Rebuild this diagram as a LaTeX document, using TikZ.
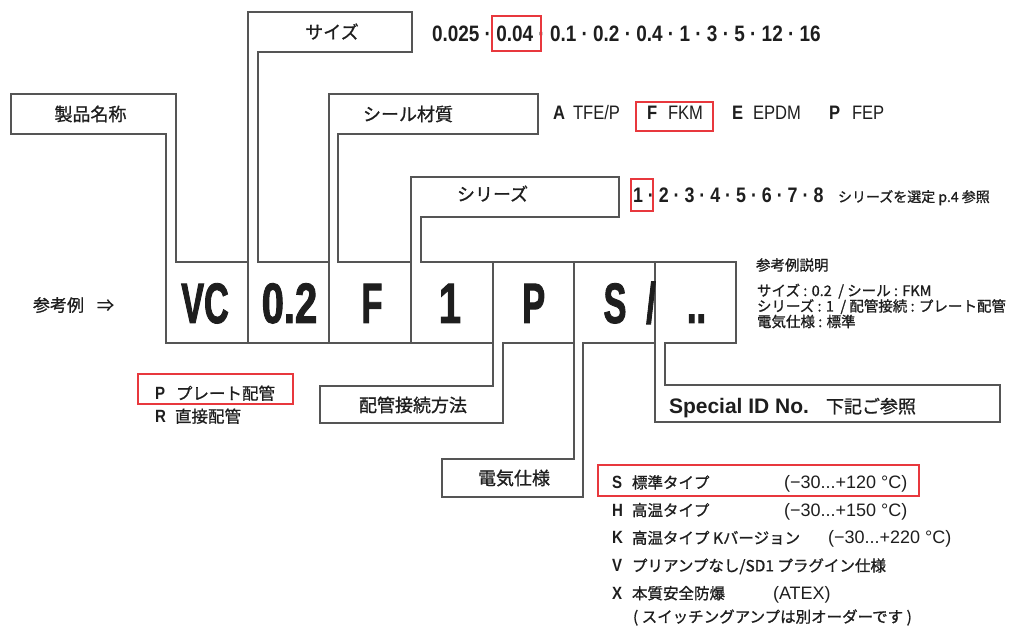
\documentclass[tikz,border=0pt]{standalone}
\usepackage{fontspec}
\setmainfont{Liberation Sans}
\newfontfamily\jp[FakeBold=1.0]{Noto Sans CJK JP}
\newfontfamily\cndB[FakeStretch=0.85]{Liberation Sans}
\newfontfamily\bigL[FakeStretch=0.6,FakeBold=1.6]{Liberation Sans}
\newfontfamily\bigD[FakeStretch=0.7,FakeBold=1.6]{Liberation Sans}
\newcommand\fsz[1]{\fontsize{#1}{#1}\selectfont}
\definecolor{ln}{HTML}{555555}
\definecolor{rd}{HTML}{E8383D}
\definecolor{tx}{HTML}{1E1E1E}
\begin{document}
\begin{tikzpicture}[x=1pt,y=-1pt,
  frame/.style={draw=ln, line width=1.3pt, line join=miter},
  redbox/.style={draw=rd, line width=1.2pt},
  t/.style={inner sep=0pt, outer sep=0pt, text=tx},
  tl/.style={t, anchor=base west},
  tc/.style={t, anchor=base},
  lab/.style={tc, font=\jp\fsz{18}},
  labw/.style={tl, font=\jp\fsz{18}},
  cellL/.style={tc, font=\bigL\bfseries\fsz{57}},
  cellD/.style={tc, font=\bigD\bfseries\fsz{57}},
  code/.style={tl, font=\cndB\bfseries\fsz{17.7}},
  jpl/.style={tl, font=\jp\fsz{15.5}},
  tmp/.style={tl, font=\fsz{18}},
  note/.style={tl, font=\jp\fsz{14.5}}]
\useasboundingbox (0,0) rectangle (1015,628);

% outlines (label box + leg + code cell)
\draw[frame] (11,94) -- (176,94) -- (176,262) -- (248,262) -- (248,343) -- (166,343) -- (166,134) -- (11,134) -- cycle;
\draw[frame] (248,12) -- (412,12) -- (412,52) -- (258,52) -- (258,262) -- (329,262) -- (329,343) -- (248,343) -- cycle;
\draw[frame] (329,94) -- (538,94) -- (538,134) -- (338,134) -- (338,262) -- (411,262) -- (411,343) -- (329,343) -- cycle;
\draw[frame] (411,177) -- (619,177) -- (619,217) -- (421,217) -- (421,262) -- (493,262) -- (493,343) -- (411,343) -- cycle;
\draw[frame] (320,386) -- (493,386) -- (493,262) -- (574,262) -- (574,343) -- (503,343) -- (503,423) -- (320,423) -- cycle;
\draw[frame] (442,459) -- (574,459) -- (574,262) -- (655,262) -- (655,343) -- (583,343) -- (583,497) -- (442,497) -- cycle;
\draw[frame] (655,262) -- (736,262) -- (736,343) -- (665,343) -- (665,385) -- (1000,385) -- (1000,422) -- (655,422) -- cycle;

% labels
\node[lab] (lname) at (90.5,120.8) {製品名称};
\node[lab] (lsize) at (332,38.8) {サイズ};
\node[labw] (lseal) at (363,120.8) {シール材質};
\node[labw] (lser) at (457,200.8) {シリーズ};
\node[lab] (lpipe) at (413,411.8) {配管接続方法};
\node[lab] (lelec) at (514,484.8) {電気仕様};
\node[tl, font=\jp\fsz{17}] (ex) at (33,311.5) {参考例\hspace{13pt}⇒};

% code cells
\node[cellL] (cVC) at (205,323) {VC};
\node[cellD] (c02) at (289.5,323) {0.2};
\node[cellL] (cF) at (372,323) {F};
\node[cellD] (c1) at (450,323) {1};
\node[cellL] (cP) at (533.7,323) {P};
\node[cellL] (cS) at (615,323) {S};
\node[cellL] (cSl) at (651,323) {/};
\node[cellL] (cDots) at (696.5,323) {..};

% size options
\node[tl, font=\cndB\bfseries\fsz{22.3}] (sizes) at (432,41.5) {0.025 · 0.04 · 0.1 · 0.2 · 0.4 · 1 · 3 · 5 · 12 · 16};
\draw[redbox] (492,16) rectangle (541,51);

% seal options
\node[tl, font=\cndB\bfseries\fsz{19.5}] (sA) at (553,120) {A};
\node[tl, font=\cndB\fsz{19.5}] (sAt) at (573,120) {TFE/P};
\node[tl, font=\cndB\bfseries\fsz{19.5}] (sF) at (647,120) {F};
\node[tl, font=\cndB\fsz{19.5}] (sFt) at (668,120) {FKM};
\node[tl, font=\cndB\bfseries\fsz{19.5}] (sE) at (732,120) {E};
\node[tl, font=\cndB\fsz{19.5}] (sEt) at (753,120) {EPDM};
\node[tl, font=\cndB\bfseries\fsz{19.5}] (sP) at (829,120) {P};
\node[tl, font=\cndB\fsz{19.5}] (sPt) at (852,120) {FEP};
\draw[redbox] (636,102) rectangle (713,131);

% series options
\node[tl, font=\cndB\bfseries\fsz{21}] (ser) at (633,202.5) {1 · 2 · 3 · 4 · 5 · 6 · 7 · 8};
\node[tl, font=\jp\fsz{14}] (sern) at (838,202) {シリーズを選定 p.4 参照};
\draw[redbox] (631,179) rectangle (653,211);

% explanation
\node[note] (n0) at (756,270.5) {参考例説明};
\node[note] (n1) at (757,296) {サイズ : 0.2 \ / シール : FKM};
\node[note] (n2) at (757,311.5) {シリーズ : 1 \ / 配管接続 : プレート配管};
\node[note] (n3) at (757,327) {電気仕様 : 標準};

% piping options
\node[code] (pP) at (155,399.5) {P};
\node[tl, font=\jp\fsz{16.5}] (pPt) at (176,399.5) {プレート配管};
\node[code] (pR) at (155,422.5) {R};
\node[tl, font=\jp\fsz{16.5}] (pRt) at (175,422.5) {直接配管};
\draw[redbox] (138,374) rectangle (293,404);

% special
\node[tl, font=\bfseries\fsz{21}] (spec) at (669,413) {Special ID No.};
\node[tl, font=\jp\fsz{18}] (spect) at (826,413) {下記ご参照};

% electrical options
\node[code] (eS) at (612,488.3) {S};
\node[jpl] (eSt) at (632,488.3) {標準タイプ};
\node[tmp] (eSr) at (784,488.3) {(−30...+120 °C)};
\node[code] (eH) at (612,516) {H};
\node[jpl] (eHt) at (632,516) {高温タイプ};
\node[tmp] (eHr) at (784,516) {(−30...+150 °C)};
\node[code] (eK) at (612,543.7) {K};
\node[jpl] (eKt) at (632,543.7) {高温タイプ Kバージョン};
\node[tmp] (eKr) at (828,543.7) {(−30...+220 °C)};
\node[code] (eV) at (612,571.4) {V};
\node[jpl] (eVt) at (632,571.4) {プリアンプなし/SD1 プラグイン仕様};
\node[code] (eX) at (612,599.1) {X};
\node[jpl] (eXt) at (632,599.1) {本質安全防爆};
\node[tmp] (eXr) at (773,599.1) {(ATEX)};
\node[jpl] (eXn) at (633,622.5) {( スイッチングアンプは別オーダーです )};
\draw[redbox] (598,465) rectangle (919,496);
\end{tikzpicture}
\end{document}
